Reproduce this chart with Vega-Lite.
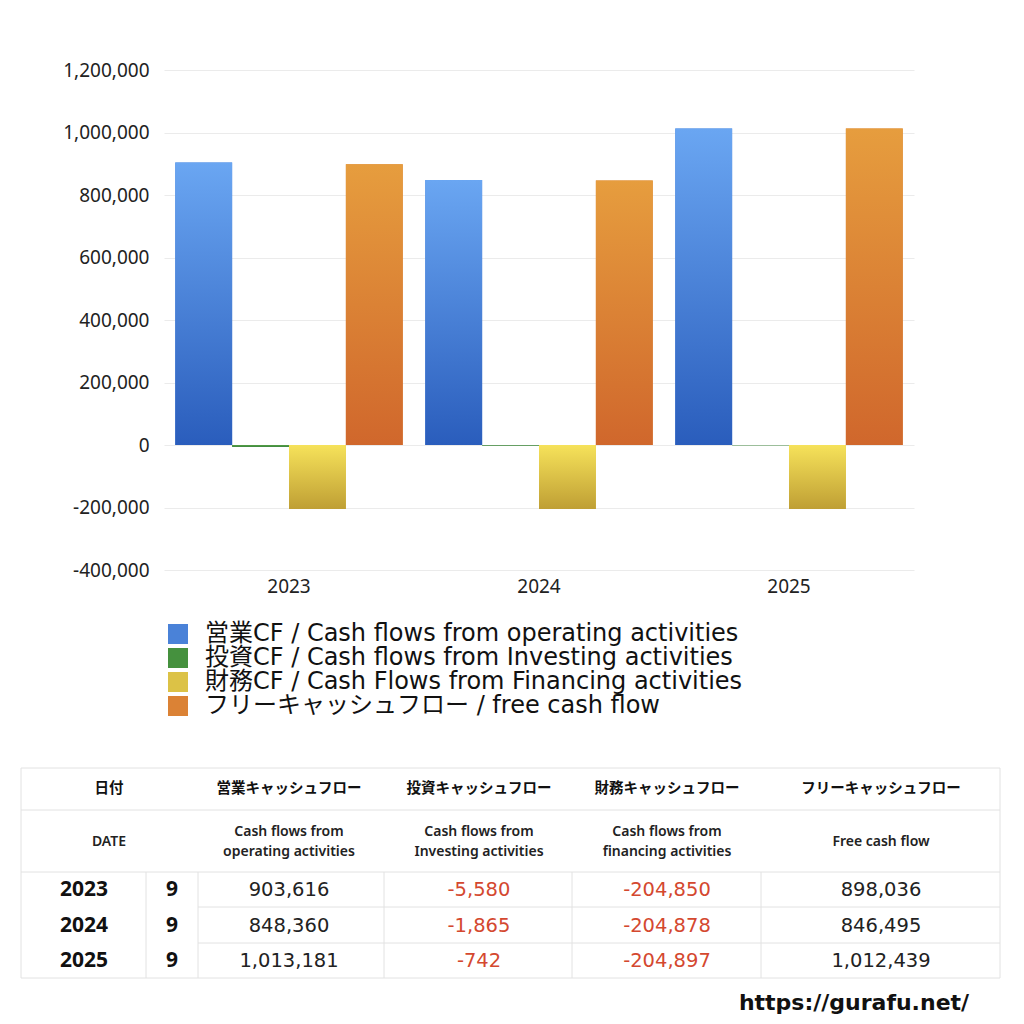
{
  "$schema": "https://vega.github.io/schema/vega-lite/v6.json",
  "background": "white",
  "padding": {"left": 20, "top": 61, "right": 20, "bottom": 0},
  "bounds": "flush",
  "spacing": 198,
  "config": {
    "view": {"stroke": null},
    "font": "Noto Sans CJK JP",
    "locale": {"number": {"decimal": ".", "thousands": ",", "grouping": [3], "currency": ["$", ""], "minus": "-"}}
  },
  "params": [
    {"name": "cfOrder", "expr": "['営業CF / Cash flows from operating activities', '投資CF / Cash flows from Investing activities', '財務CF / Cash Flows from Financing activities', 'フリーキャッシュフロー / free cash flow']"},
    {"name": "cfGrad", "expr": "[{gradient: 'linear', x1: 0, y1: 0, x2: 0, y2: 1, stops: [{offset: 0, color: '#6aa6f2'}, {offset: 1, color: '#2a5dbc'}]}, {gradient: 'linear', x1: 0, y1: 0, x2: 0, y2: 1, stops: [{offset: 0, color: '#5da64c'}, {offset: 1, color: '#2e7b30'}]}, {gradient: 'linear', x1: 0, y1: 0, x2: 0, y2: 1, stops: [{offset: 0, color: '#f6e25a'}, {offset: 1, color: '#bf9f34'}]}, {gradient: 'linear', x1: 0, y1: 0, x2: 0, y2: 1, stops: [{offset: 0, color: '#e69d3e'}, {offset: 1, color: '#d0672c'}]}]"}
  ],
  "datasets": {
    "cf": [
      {"year": "2023", "series": "営業CF / Cash flows from operating activities", "value": 903616},
      {"year": "2023", "series": "投資CF / Cash flows from Investing activities", "value": -5580},
      {"year": "2023", "series": "財務CF / Cash Flows from Financing activities", "value": -204850},
      {"year": "2023", "series": "フリーキャッシュフロー / free cash flow", "value": 898036},
      {"year": "2024", "series": "営業CF / Cash flows from operating activities", "value": 848360},
      {"year": "2024", "series": "投資CF / Cash flows from Investing activities", "value": -1865},
      {"year": "2024", "series": "財務CF / Cash Flows from Financing activities", "value": -204878},
      {"year": "2024", "series": "フリーキャッシュフロー / free cash flow", "value": 846495},
      {"year": "2025", "series": "営業CF / Cash flows from operating activities", "value": 1013181},
      {"year": "2025", "series": "投資CF / Cash flows from Investing activities", "value": -742},
      {"year": "2025", "series": "財務CF / Cash Flows from Financing activities", "value": -204897},
      {"year": "2025", "series": "フリーキャッシュフロー / free cash flow", "value": 1012439}
    ],
    "cols": [
      {"key": "date", "cx": 88},
      {"key": "year", "cx": 63},
      {"key": "month", "cx": 151},
      {"key": "営業CF / Cash flows from operating activities", "cx": 268},
      {"key": "投資CF / Cash flows from Investing activities", "cx": 458},
      {"key": "財務CF / Cash Flows from Financing activities", "cx": 646},
      {"key": "フリーキャッシュフロー / free cash flow", "cx": 860},
      {"key": "url", "cx": 833}
    ],
    "rows": [
      {"key": "h1", "cy": 21},
      {"key": "h2", "cy": 74},
      {"key": "h2m", "cy": 64},
      {"key": "2023", "cy": 122},
      {"key": "2024", "cy": 158},
      {"key": "2025", "cy": 193},
      {"key": "url", "cy": 235}
    ],
    "cells": [
      {"col": "date", "row": "h1", "kind": "h", "text": "日付"},
      {"col": "営業CF / Cash flows from operating activities", "row": "h1", "kind": "h", "text": "営業キャッシュフロー"},
      {"col": "投資CF / Cash flows from Investing activities", "row": "h1", "kind": "h", "text": "投資キャッシュフロー"},
      {"col": "財務CF / Cash Flows from Financing activities", "row": "h1", "kind": "h", "text": "財務キャッシュフロー"},
      {"col": "フリーキャッシュフロー / free cash flow", "row": "h1", "kind": "h", "text": "フリーキャッシュフロー"},
      {"col": "date", "row": "h2", "kind": "s", "text": "DATE"},
      {"col": "営業CF / Cash flows from operating activities", "row": "h2m", "kind": "s", "text": "Cash flows from\noperating activities"},
      {"col": "投資CF / Cash flows from Investing activities", "row": "h2m", "kind": "s", "text": "Cash flows from\nInvesting activities"},
      {"col": "財務CF / Cash Flows from Financing activities", "row": "h2m", "kind": "s", "text": "Cash flows from\nfinancing activities"},
      {"col": "フリーキャッシュフロー / free cash flow", "row": "h2", "kind": "s", "text": "Free cash flow"},
      {"col": "year", "row": "2023", "kind": "y", "text": "2023"},
      {"col": "year", "row": "2024", "kind": "y", "text": "2024"},
      {"col": "year", "row": "2025", "kind": "y", "text": "2025"},
      {"col": "month", "row": "2023", "kind": "y", "text": "9"},
      {"col": "month", "row": "2024", "kind": "y", "text": "9"},
      {"col": "month", "row": "2025", "kind": "y", "text": "9"},
      {"col": "url", "row": "url", "kind": "u", "text": "https://gurafu.net/"}
    ],
    "hlines": [
      {"x0": 0, "x1": 979, "y": 0},
      {"x0": 0, "x1": 979, "y": 42},
      {"x0": 0, "x1": 979, "y": 104},
      {"x0": 177, "x1": 979, "y": 139},
      {"x0": 177, "x1": 979, "y": 175},
      {"x0": 0, "x1": 979, "y": 210}
    ],
    "vlines": [
      {"x": 0, "y0": 0, "y1": 210},
      {"x": 979, "y0": 0, "y1": 210},
      {"x": 125, "y0": 104, "y1": 210},
      {"x": 177, "y0": 104, "y1": 210},
      {"x": 363, "y0": 104, "y1": 210},
      {"x": 551, "y0": 104, "y1": 210},
      {"x": 740, "y0": 104, "y1": 210}
    ]
  },
  "vconcat": [
    {
      "width": 750,
      "height": 500,
      "data": {"name": "cf"},
      "encoding": {
        "x": {
          "field": "year", "type": "nominal",
          "scale": {"paddingInner": 0.09, "paddingOuter": 0.045},
          "axis": {"title": null, "labelAngle": 0, "domain": false, "ticks": false, "labelFont": "Noto Sans", "labelFontSize": 19, "labelColor": "#222", "labelPadding": 7}
        },
        "xOffset": {
          "field": "series", "type": "nominal",
          "sort": ["営業CF / Cash flows from operating activities", "投資CF / Cash flows from Investing activities", "財務CF / Cash Flows from Financing activities", "フリーキャッシュフロー / free cash flow"],
          "scale": {"paddingInner": 0, "paddingOuter": 0}
        },
        "y": {
          "field": "value", "type": "quantitative", "stack": null,
          "scale": {"domain": [-400000, 1200000], "nice": false},
          "axis": {
            "title": null, "values": [-400000, -200000, 0, 200000, 400000, 600000, 800000, 1000000, 1200000],
            "labelExpr": "format(datum.value, ',')", "domain": false, "ticks": false, "gridColor": "#ebebeb",
            "labelFont": "Noto Sans", "labelFontSize": 19, "labelColor": "#222", "labelPadding": 15
          }
        }
      },
      "layer": [
        {
          "mark": {"type": "bar"},
          "encoding": {
            "color": {
              "field": "series", "type": "nominal",
              "sort": ["営業CF / Cash flows from operating activities", "投資CF / Cash flows from Investing activities", "財務CF / Cash Flows from Financing activities", "フリーキャッシュフロー / free cash flow"],
              "scale": {"range": ["#4a82d8", "#45913e", "#dcc246", "#db8235"]},
              "legend": {
                "orient": "none", "legendX": 2, "legendY": 552, "title": null,
                "symbolType": "square", "symbolSize": 400, "symbolStrokeWidth": 0, "symbolOpacity": 1,
                "labelFont": "DejaVu Sans, Noto Sans CJK JP", "labelFontSize": 24, "labelColor": "#111", "labelOffset": 15, "labelLimit": 1000, "rowPadding": 0
              }
            }
          }
        },
        {
          "mark": {"type": "bar", "fill": {"expr": "cfGrad[indexof(cfOrder, datum.series)]"}}
        }
      ]
    },
    {
      "width": 750,
      "height": 256,
      "layer": [
        {
          "data": {"name": "hlines"},
          "mark": {"type": "rule", "color": "#e2e2e2", "strokeWidth": 1},
          "encoding": {
            "x": {"field": "x0", "type": "quantitative", "scale": {"domain": [143, 893], "nice": false, "zero": false}, "axis": null},
            "x2": {"field": "x1"},
            "y": {"field": "y", "type": "quantitative", "scale": {"domain": [0, 256], "nice": false, "reverse": true}, "axis": null}
          }
        },
        {
          "data": {"name": "vlines"},
          "mark": {"type": "rule", "color": "#e2e2e2", "strokeWidth": 1},
          "encoding": {
            "x": {"field": "x", "type": "quantitative", "scale": {"domain": [143, 893], "nice": false, "zero": false}, "axis": null},
            "y": {"field": "y0", "type": "quantitative", "scale": {"domain": [0, 256], "nice": false, "reverse": true}, "axis": null},
            "y2": {"field": "y1"}
          }
        },
        {
          "data": {"name": "cells"},
          "transform": [
            {"lookup": "col", "from": {"data": {"name": "cols"}, "key": "key", "fields": ["cx"]}},
            {"lookup": "row", "from": {"data": {"name": "rows"}, "key": "key", "fields": ["cy"]}},
            {"filter": "datum.kind === 'h'"}
          ],
          "mark": {"type": "text", "fontSize": 14.5, "fontWeight": "bold", "color": "#111", "baseline": "middle"},
          "encoding": {
            "x": {"field": "cx", "type": "quantitative", "scale": {"domain": [143, 893], "nice": false, "zero": false}, "axis": null},
            "y": {"field": "cy", "type": "quantitative", "scale": {"domain": [0, 256], "nice": false, "reverse": true}, "axis": null},
            "text": {"field": "text"}
          }
        },
        {
          "data": {"name": "cells"},
          "transform": [
            {"lookup": "col", "from": {"data": {"name": "cols"}, "key": "key", "fields": ["cx"]}},
            {"lookup": "row", "from": {"data": {"name": "rows"}, "key": "key", "fields": ["cy"]}},
            {"filter": "datum.kind === 's'"}
          ],
          "mark": {"type": "text", "font": "Noto Sans", "fontSize": 14, "fontWeight": 600, "color": "#222", "baseline": "middle", "lineBreak": "\n", "lineHeight": 20},
          "encoding": {
            "x": {"field": "cx", "type": "quantitative", "scale": {"domain": [143, 893], "nice": false, "zero": false}, "axis": null},
            "y": {"field": "cy", "type": "quantitative", "scale": {"domain": [0, 256], "nice": false, "reverse": true}, "axis": null},
            "text": {"field": "text"}
          }
        },
        {
          "data": {"name": "cells"},
          "transform": [
            {"lookup": "col", "from": {"data": {"name": "cols"}, "key": "key", "fields": ["cx"]}},
            {"lookup": "row", "from": {"data": {"name": "rows"}, "key": "key", "fields": ["cy"]}},
            {"filter": "datum.kind === 'y'"}
          ],
          "mark": {"type": "text", "font": "Noto Sans", "fontSize": 21, "fontWeight": "bold", "color": "#111", "baseline": "middle"},
          "encoding": {
            "x": {"field": "cx", "type": "quantitative", "scale": {"domain": [143, 893], "nice": false, "zero": false}, "axis": null},
            "y": {"field": "cy", "type": "quantitative", "scale": {"domain": [0, 256], "nice": false, "reverse": true}, "axis": null},
            "text": {"field": "text"}
          }
        },
        {
          "data": {"name": "cells"},
          "transform": [
            {"lookup": "col", "from": {"data": {"name": "cols"}, "key": "key", "fields": ["cx"]}},
            {"lookup": "row", "from": {"data": {"name": "rows"}, "key": "key", "fields": ["cy"]}},
            {"filter": "datum.kind === 'u'"}
          ],
          "mark": {"type": "text", "font": "DejaVu Sans", "fontSize": 22, "fontWeight": "bold", "color": "#111", "baseline": "middle"},
          "encoding": {
            "x": {"field": "cx", "type": "quantitative", "scale": {"domain": [143, 893], "nice": false, "zero": false}, "axis": null},
            "y": {"field": "cy", "type": "quantitative", "scale": {"domain": [0, 256], "nice": false, "reverse": true}, "axis": null},
            "text": {"field": "text"}
          }
        },
        {
          "data": {"name": "cf"},
          "transform": [
            {"lookup": "series", "from": {"data": {"name": "cols"}, "key": "key", "fields": ["cx"]}},
            {"lookup": "year", "from": {"data": {"name": "rows"}, "key": "key", "fields": ["cy"]}}
          ],
          "mark": {"type": "text", "font": "DejaVu Sans", "fontSize": 19.5, "baseline": "middle"},
          "encoding": {
            "x": {"field": "cx", "type": "quantitative", "scale": {"domain": [143, 893], "nice": false, "zero": false}, "axis": null},
            "y": {"field": "cy", "type": "quantitative", "scale": {"domain": [0, 256], "nice": false, "reverse": true}, "axis": null},
            "text": {"field": "value", "type": "quantitative", "format": ","},
            "color": {"condition": {"test": "datum.value < 0", "value": "#d4482f"}, "value": "#222"}
          }
        }
      ]
    }
  ]
}
